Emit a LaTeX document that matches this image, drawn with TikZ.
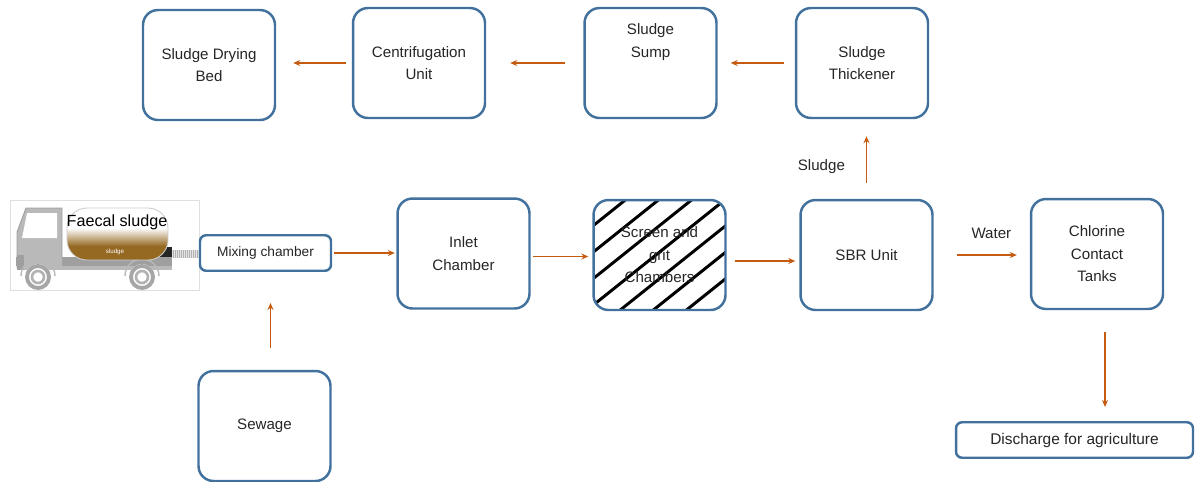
\documentclass[tikz,border=0pt]{standalone}
\usepackage{fontspec}
\setmainfont{Liberation Sans}
\usetikzlibrary{arrows.meta}
\definecolor{boxblue}{RGB}{65,113,156}
\definecolor{flowbrown}{RGB}{197,90,17}
\definecolor{tankbrown}{RGB}{150,105,35}
\definecolor{textgrey}{RGB}{38,38,38}
\begin{document}
\begin{tikzpicture}[
    x=0.02cm, y=-0.02cm,
    >=Stealth,
    unit/.style={
        draw=boxblue,
        line width=1.4pt,
        rounded corners=0.3cm,
        fill=white,
        align=center,
        text=textgrey,
        font=\fontsize{8.6}{12.8}\selectfont,
        minimum width=2.64cm,
        minimum height=2.2cm
    },
    chamber/.style={
        draw=boxblue,
        line width=1.4pt,
        rounded corners=0.12cm,
        fill=white,
        align=center,
        text=textgrey,
        minimum height=0.71cm
    },
    hatched/.style={
        path picture={
            \foreach \k [evaluate=\k as \ya using 0.6-0.53*\k,
                         evaluate=\k as \yb using 2.936-0.53*\k] in {0,...,7}
                \draw[black, line width=1.7pt]
                    ([shift={(-1.31cm,\ya cm)}]path picture bounding box.center) --
                    ([shift={(1.61cm,\yb cm)}]path picture bounding box.center);
        }
    },
    flow/.style={
        draw=flowbrown,
        line width=0.8pt,
        arrows={-Stealth[length=1.4mm,width=1.2mm]}
    },
    tag/.style={text=textgrey, font=\fontsize{8.6}{10}\selectfont}
]
\useasboundingbox (0,0) rectangle (1195,481);

% TANKER TRUCK
\draw[gray!25, line width=0.5pt] (10,200) rectangle (199,290);
\fill[gray!60] (166,250) rectangle (199,258);
\foreach \x in {168,170,...,198}
    \draw[gray!20, line width=0.3pt] (\x,250) -- (\x,258);
\fill[black!85] (156,247) rectangle (172,259);
\fill[gray!75] (16,257) rectangle (172,266);
\fill[gray!55] (17,266) rectangle (172,270);
\fill[gray!55] (17,268) -- (17,232) -- (26,208) -- (62,208) -- (62,268) -- cycle;
\draw[gray!75, line width=0.5pt] (17,268) -- (17,232) -- (26,208) -- (62,208) -- (62,257);
\fill[gray!75] (17,255) rectangle (24,270);
\fill[white] (22,238) -- (27,213) -- (57,213) -- (57,238) -- cycle;
\foreach \wx in {38,142} {
    \draw[gray!55, line width=0.8pt] (\wx-17,276) arc (180:360:17);
    \fill[white] (\wx,277) circle (13);
    \draw[gray!70, line width=2.2pt] (\wx,277) circle (11);
    \draw[gray!60, line width=1.5pt] (\wx,277) circle (6);
}
\begin{scope}
    \clip[rounded corners=0.4cm] (67,208) rectangle (168,260);
    \fill[white] (67,208) rectangle (168,260);
    \shade[top color=white, bottom color=tankbrown] (67,228) rectangle (168,246);
    \fill[tankbrown] (67,246) rectangle (168,260);
\end{scope}
\draw[gray!40, line width=0.5pt, rounded corners=0.4cm] (67,208) rectangle (168,260);
\node[text=black, font=\fontsize{9.2}{10}\selectfont] (tanklabel) at (117,222) {Faecal sludge};
\node[text=white, font=\fontsize{3.5}{4}\selectfont] (tanksludge) at (115,252) {sludge};

% MAIN LINE
\node[chamber, minimum width=2.62cm, font=\fontsize{7.8}{9}\selectfont] (mixing) at (265.5,253) {Mixing chamber};
\node[unit] (inlet) at (463.5,253.5) {Inlet\\Chamber};
\node[unit, hatched] (screen) at (659.5,255) {Screen and\\grit\\Chambers};
\node[unit] (sbr) at (866.5,255) {SBR Unit};
\node[unit] (chlorine) at (1097,254) {Chlorine\\Contact\\Tanks};
\node[chamber, minimum width=4.74cm, font=\fontsize{8.8}{10}\selectfont] (discharge) at (1074.5,440) {Discharge for agriculture};
\node[unit] (sewage) at (264.5,426) {Sewage};

\draw[flow, shorten <=0.04cm, shorten >=0.03cm] (mixing.east) -- (mixing.east -| inlet.west);
\draw[flow, shorten <=0.04cm, shorten >=0.08cm] ([yshift=-0.06cm]inlet.east) -- ([yshift=-0.06cm]inlet.east -| screen.west);
\draw[flow, shorten <=0.16cm, shorten >=0.08cm] ([yshift=-0.12cm]screen.east) -- ([yshift=-0.12cm]screen.east -| sbr.west);
\draw[flow, shorten <=0.46cm, shorten >=0.26cm] (sbr.east) -- (sbr.east -| chlorine.west)
    node[tag, pos=0.6, above=0.2cm] (water) {Water};
\draw[flow, shorten <=0.44cm, shorten >=0.62cm] ([xshift=0.12cm]sewage.north) -- ([xshift=0.12cm]sewage.north |- mixing.south);
\draw[flow, shorten <=0.44cm, shorten >=0.28cm] ([xshift=0.16cm]chlorine.south) -- ([xshift=0.16cm]chlorine.south |- discharge.north);

% SLUDGE LINE
\node[unit] (dryingbed) at (209,65) {Sludge Drying\\Bed};
\node[unit] (centrifuge) at (419,63) {Centrifugation\\Unit};
\node[unit] (sump) at (650.5,63) {Sludge\\Sump\\\mbox{}\\\mbox{}};
\node[unit] (thickener) at (862,63) {Sludge\\Thickener};

\draw[flow, shorten <=0.32cm, shorten >=0.34cm] (sbr.north) -- (sbr.north |- thickener.south)
    node[tag, pos=0.4, left=0.3cm] (sludge) {Sludge};
\draw[flow, shorten <=0.22cm, shorten >=0.26cm] (thickener) -- (sump);
\draw[flow, shorten <=0.36cm, shorten >=0.48cm] (sump) -- (centrifuge);
\draw[flow, shorten <=0.12cm, shorten >=0.34cm] (centrifuge.west) -- (centrifuge.west -| dryingbed.east);

\end{tikzpicture}
\end{document}
